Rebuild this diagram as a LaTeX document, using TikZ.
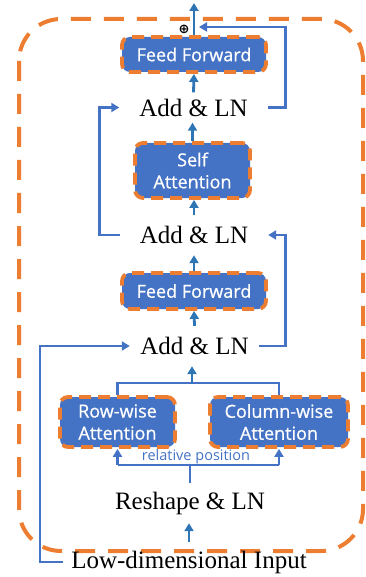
\documentclass[tikz,border=0pt]{standalone}
\usepackage{fontspec}
\setmainfont{Liberation Serif}
\newfontfamily\boxfont[FakeBold=0.7]{Open Sans}
\newfontfamily\relfont{Open Sans}
\newfontfamily\symfont{DejaVu Sans}
\usetikzlibrary{arrows.meta,calc}
\definecolor{boxfill}{HTML}{4472C4}
\definecolor{dashor}{HTML}{ED7D31}
\definecolor{lineblue}{HTML}{4472C4}
\definecolor{arrblue}{HTML}{2E75B6}
\begin{document}
\begin{tikzpicture}[x=1pt,y=-1pt,
 blk/.style={draw=dashor, fill=boxfill, line width=3.8pt, dash pattern=on 12pt off 7pt, rounded corners=8pt, text=white, font=\boxfont\fontsize{18}{22}\selectfont, align=center, inner sep=0pt},
 lbl/.style={font=\fontsize{25}{28}\selectfont, inner sep=0pt},
 conn/.style={draw=lineblue, line width=2.8pt},
 arr/.style={conn, -{Triangle[width=9pt,length=8pt]}},
 sarr/.style={draw=arrblue, line width=2.8pt, -{Triangle[width=9pt,length=8pt]}},
]
\useasboundingbox (0,0) rectangle (365,577);
% outer dashed frame
\draw[draw=dashor, line width=4pt, dash pattern=on 20pt off 13pt, rounded corners=42pt] (19,19) rectangle (363,551);

% nodes
\node[blk, minimum width=144pt, minimum height=35pt] (ff2) at (194,54.5) {Feed Forward};
\node[lbl, minimum width=148pt, minimum height=30pt] (add3) at (193.5,107.5) {Add \& LN};
\node[blk, minimum width=115pt, minimum height=55pt] (sa) at (192.5,170.5) {Self\\Attention};
\node[lbl, minimum width=148pt, minimum height=40pt] (add2) at (194,235) {Add \& LN};
\node[blk, minimum width=144pt, minimum height=36pt] (ff1) at (194,291) {Feed Forward};
\node[lbl, minimum width=129pt, minimum height=40pt] (add1) at (194.5,346) {Add \& LN};
\node[blk, minimum width=115pt, minimum height=50pt] (row) at (117.5,422) {Row-wise\\Attention};
\node[blk, minimum width=138pt, minimum height=50pt] (col) at (279,422) {Column-wise\\Attention};
\node[inner sep=0pt, text=lineblue, font=\relfont\fontsize{14.5}{16}\selectfont] (rel) at (196,457) {relative position};
\node[lbl, minimum height=40pt] (reshape) at (190,503) {Reshape \& LN};
\node[lbl, minimum height=40pt] (input) at (189,562) {Low-dimensional Input};
\node[inner sep=0pt, font=\symfont\bfseries\fontsize{13}{13}\selectfont] (plus) at (184,29) {⊕};

% coordinates
\coordinate (top) at (194,3);
\coordinate (resin) at (199,27);
\coordinate (lc) at (40,562);
\coordinate (m) at (192,383);
\coordinate (s) at (190,465);

% connectors
\draw[sarr] (ff2.north) -- (top);
\draw[arr] (add3.east) -- ++(18,0) |- (resin);
\draw[sarr] (add3.north) -- (ff2.south);
\draw[sarr] (sa.north) -- (sa.north |- add3.south);
\draw[arr] (add2.west) -- ++(-20,0) |- (add3.west);
\draw[sarr] (add2.north) -- (add2.north |- sa.south);
\draw[sarr] (ff1.north) -- (add2.south);
\draw[arr] (add1.east) -- ++(26,0) |- (add2.east);
\draw[sarr] (add1.north) -- (ff1.south);
\draw[arr] ([xshift=-8pt]input.west) -- (lc) |- (add1.west);
\draw[conn] (row.north) -- (row.north |- m) -- (col.north |- m) -- (col.north);
\draw[sarr] (m) -- (m |- add1.south);
\draw[conn] (reshape.north) -- (reshape.north |- s);
\draw[conn] (row.south |- s) -- (col.south |- s);
\draw[arr] (row.south |- s) -- (row.south);
\draw[arr] (col.south |- s) -- (col.south);
\draw[sarr] (input.north) -- (input.north |- reshape.south);
\end{tikzpicture}
\end{document}
